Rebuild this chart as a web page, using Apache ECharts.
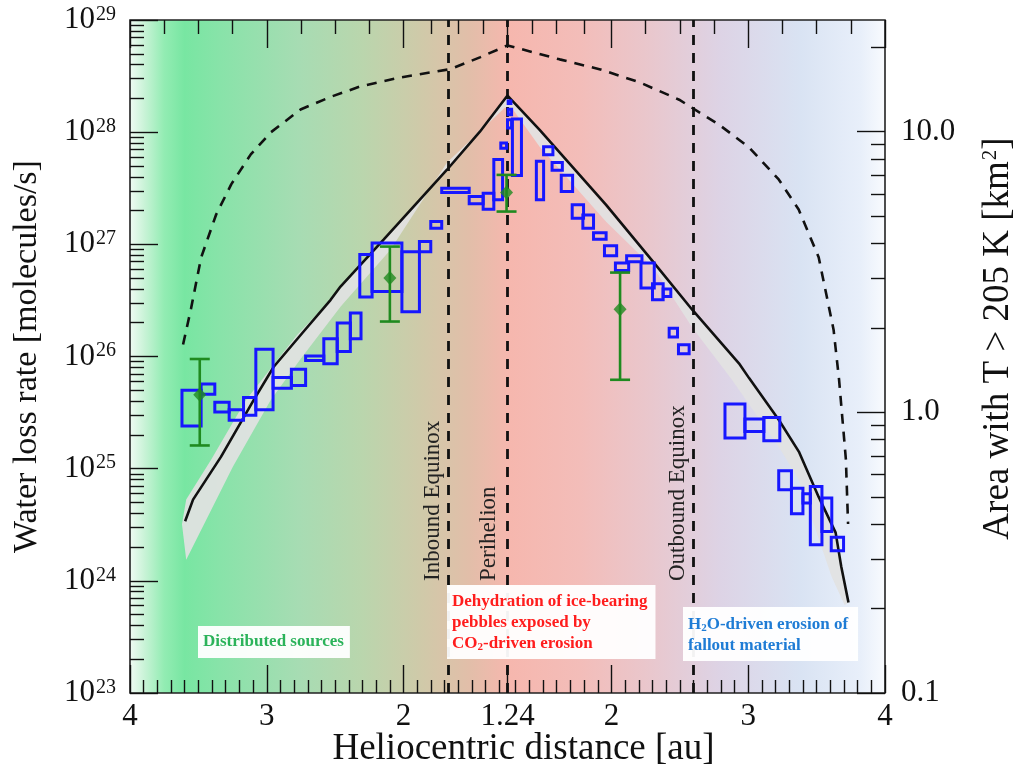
<!DOCTYPE html>
<html>
<head>
<meta charset="utf-8">
<script src="https://cdn.jsdelivr.net/npm/echarts@6/dist/echarts.min.js"></script>
<style>
  html, body { margin: 0; padding: 0; background: #ffffff; }
  #chart { width: 1019px; height: 766px; }
</style>
</head>
<body>
<div id="chart"></div>
<script>
// ---------------------------------------------------------------------------
// Water loss rate along the orbit, inbound (left) and outbound (right) legs.
// Distances in au, rates in molecules/s, areas in km^2.
// ---------------------------------------------------------------------------
const PERIHELION = 1.24;
const AXIS_END = 4;

// Labelled distances on each leg
const distanceTicksIn = [4, 3, 2];
const distanceTicksOut = [2, 3, 4];

// Equinox crossings
const equinoxIn = 1.67;
const equinoxOut = 2.6;

// Modelled water loss rate: [distance, rate]
const modelIn = [[3.597, 3.4e24], [3.539, 5.3e24], [3.334, 1.28e25], [3.214, 2.3e25], [3.095, 4.1e25],
  [2.949, 8.1e25], [2.740, 1.62e26], [2.533, 3.2e26], [2.461, 4.2e26], [2.146, 1.10e27],
  [1.927, 2.17e27], [1.684, 4.6e27], [1.442, 1.01e28], [1.24, 2.12e28]];
const modelOut = [[1.24, 2.12e28], [1.475, 1.05e28], [1.961, 2.25e27], [2.313, 6.8e26], [2.592, 2.6e26],
  [2.932, 8.7e25], [3.005, 6.45e25], [3.223, 2.73e25], [3.37, 1.42e25], [3.515, 5.6e24],
  [3.639, 2.69e24], [3.68, 1.34e24], [3.733, 6.4e23]];

// Uncertainty envelope of the model: upper and lower edges
const bandTopIn = [[3.62, 3.2e24], [3.589, 5.3e24], [3.407, 1.2e25], [3.152, 4.1e25], [2.78, 1.55e26],
  [2.533, 3.2e26], [2.146, 1.10e27], [1.684, 4.6e27], [1.24, 2.12e28]];
const bandTopOut = [[1.24, 2.12e28], [1.475, 1.05e28], [2.932, 8.7e25], [3.005, 6.45e25], [3.223, 2.73e25],
  [3.37, 1.42e25], [3.515, 5.6e24], [3.639, 2.69e24], [3.733, 6.4e23]];
const bandLowIn = [[3.589, 1.54e24], [3.248, 1.04e25], [2.971, 4.1e25], [2.753, 9.5e25], [2.461, 2.77e26],
  [2.097, 8.9e26], [1.682, 5.37e27], [1.26, 1.65e28]];
const bandLowOut = [[1.271, 1.65e28], [1.475, 7.43e27], [1.961, 1.59e27], [2.313, 6.07e26], [2.592, 1.80e26],
  [2.881, 6.2e25], [3.223, 1.57e25], [3.369, 7.96e24], [3.61, 1.09e24], [3.705, 6.1e23]];

// Surface area warmer than 205 K: [distance, km^2]
const areaIn = [[3.612, 1.745], [3.554, 2.34], [3.48, 3.56], [3.37, 5.07], [3.26, 6.49], [3.117, 8.3],
  [2.971, 9.94], [2.753, 12.0], [2.534, 13.3], [2.316, 14.5], [2.024, 15.6], [1.66, 16.7],
  [1.442, 18.4], [1.24, 20.3]];
const areaOut = [[1.24, 20.3], [1.424, 19.2], [1.621, 18.1], [1.912, 16.7], [2.204, 15.0], [2.495, 13.0],
  [2.786, 10.6], [3.005, 8.8], [3.223, 6.76], [3.369, 5.28], [3.515, 3.57], [3.624, 1.97],
  [3.664, 1.31], [3.714, 0.68], [3.73, 0.40]];

// Measured loss rates: [distance from, distance to, rate low, rate high]
const boxesIn = [
  [3.62, 3.48, 2.4e25, 5.0e25], [3.48, 3.38, 4.6e25, 5.7e25], [3.38, 3.275, 3.2e25, 3.9e25],
  [3.275, 3.17, 2.7e25, 3.35e25], [3.17, 3.08, 3.0e25, 4.3e25], [3.08, 2.954, 3.35e25, 1.16e26],
  [2.954, 2.82, 5.2e25, 6.5e25], [2.82, 2.716, 5.5e25, 7.7e25], [2.716, 2.583, 9.2e25, 1.01e26],
  [2.583, 2.485, 8.6e25, 1.44e26], [2.485, 2.389, 1.11e26, 1.99e26], [2.389, 2.311, 1.44e26, 2.44e26],
  [2.32, 2.23, 3.4e26, 8.1e26], [2.23, 2.012, 3.8e26, 1.03e27], [2.012, 1.884, 2.5e26, 8.6e26],
  [1.884, 1.801, 8.6e26, 1.06e27], [1.801, 1.721, 1.39e27, 1.6e27], [1.721, 1.52, 2.9e27, 3.17e27],
  [1.52, 1.418, 2.3e27, 2.67e27], [1.418, 1.34, 2.06e27, 2.86e27], [1.34, 1.276, 2.5e27, 5.7e27],
  [1.289, 1.247, 7.2e27, 8.0e27]
];
const boxesOut = [
  [1.24, 1.27, 1.09e28, 1.29e28], [1.245, 1.27, 1.43e28, 1.6e28], [1.245, 1.265, 1.8e28, 1.9e28],
  [1.276, 1.342, 4.1e27, 1.31e28], [1.451, 1.504, 2.5e27, 5.5e27], [1.504, 1.572, 6.3e27, 7.4e27],
  [1.566, 1.641, 4.57e27, 5.36e27], [1.633, 1.716, 2.96e27, 4.12e27], [1.713, 1.796, 1.71e27, 2.25e27],
  [1.791, 1.869, 1.39e27, 1.83e27], [1.869, 1.961, 1.11e27, 1.27e27], [1.949, 2.038, 7.9e26, 9.7e26],
  [2.029, 2.126, 5.85e26, 6.8e26], [2.111, 2.223, 7.0e26, 7.9e26], [2.216, 2.313, 4.07e26, 6.8e26],
  [2.300, 2.378, 3.2e26, 4.45e26], [2.378, 2.434, 3.43e26, 3.99e26], [2.422, 2.483, 1.49e26, 1.79e26],
  [2.490, 2.568, 1.06e26, 1.27e26], [2.830, 2.976, 1.88e25, 3.78e25], [2.976, 3.114, 2.15e25, 2.77e25],
  [3.114, 3.231, 1.77e25, 2.86e25], [3.223, 3.316, 6.5e24, 9.6e24], [3.316, 3.400, 3.96e24, 6.7e24],
  [3.400, 3.454, 4.93e24, 5.97e24], [3.454, 3.539, 2.1e24, 6.93e24], [3.539, 3.611, 2.75e24, 5.47e24],
  [3.607, 3.697, 1.85e24, 2.45e24]
];

// Independent estimates: [distance, rate, low, high]
const pointsIn = [[3.49, 4.56e25, 1.61e25, 9.5e25], [2.10, 5.0e26, 2.05e26, 9.55e26], [1.247, 2.9e27, 1.96e27, 4.16e27]];
const pointsOut = [[2.063, 2.64e26, 6.2e25, 5.6e26]];

// ---------------------------------------------------------------------------
const FONT = "'Liberation Serif', 'Times New Roman', serif";
const INK = '#111111';

// Signed orbit coordinate: negative before perihelion, positive after
const toU = (r, leg) => leg === 'in' ? -(r - PERIHELION) : (r - PERIHELION);
const curve = (pts, leg) => pts.map(p => [toU(p[0], leg), p[1]]);

const uMax = AXIS_END - PERIHELION;
const majorU = [...distanceTicksIn.map(r => toU(r, 'in')), 0, ...distanceTicksOut.map(r => toU(r, 'out'))];

const minorU = [];
for (let k = 13; k < 40; k++) {
  if (k % 10 === 0) continue;
  minorU.push(toU(k / 10, 'in'), toU(k / 10, 'out'));
}
const topMinorR = [3.75, 3.5, 3.25, 2.75, 2.5, 2.25, 1.8, 1.6, 1.42];
const topMinorU = [];
topMinorR.forEach(r => topMinorU.push(toU(r, 'in'), toU(r, 'out')));

const logMinor = (lo, hi, max) => {
  const out = [];
  for (let n = lo; n < hi; n++) for (let k = 2; k <= 9; k++) {
    const v = Math.log10(k) + n;
    if (v < max) out.push(v);
  }
  return out;
};
const AREA_MIN = 0.1, AREA_MAX = 25;

const modelLine = [...curve(modelIn, 'in'), ...curve(modelOut, 'out').slice(1)];
const areaLine = [...curve(areaIn, 'in'), ...curve(areaOut, 'out').slice(1)];
const bandTop = [...curve(bandTopIn, 'in'), ...curve(bandTopOut, 'out').slice(1)];
const bandLow = [...curve(bandLowIn, 'in'), ...curve(bandLowOut, 'out')];

const boxData = [
  ...boxesIn.map(b => [toU(b[0], 'in'), toU(b[1], 'in'), b[2], b[3]]),
  ...boxesOut.map(b => [toU(b[0], 'out'), toU(b[1], 'out'), b[2], b[3]])
];
const pointData = [
  ...pointsIn.map(p => [toU(p[0], 'in'), p[1], p[2], p[3]]),
  ...pointsOut.map(p => [toU(p[0], 'out'), p[1], p[2], p[3]])
];

const distLabel = v => {
  if (Math.abs(v) < 1e-6) return String(PERIHELION);
  return String(Math.round((Math.abs(v) + PERIHELION) * 100) / 100);
};

const chart = echarts.init(document.getElementById('chart'), null, { renderer: 'canvas' });

const bg = new echarts.graphic.LinearGradient(0, 0, 1, 0, [
  { offset: 0.000, color: '#f2fbf5' },
  { offset: 0.020, color: '#c9f3d7' },
  { offset: 0.046, color: '#93ecb3' },
  { offset: 0.073, color: '#78e6a2' },
  { offset: 0.120, color: '#88e3a9' },
  { offset: 0.225, color: '#a7dcb3' },
  { offset: 0.305, color: '#b9d6ad' },
  { offset: 0.384, color: '#cfcaa9' },
  { offset: 0.450, color: '#e2bea9' },
  { offset: 0.503, color: '#f6b7ae' },
  { offset: 0.596, color: '#f3bdb9' },
  { offset: 0.689, color: '#e9c7cd' },
  { offset: 0.781, color: '#ddd3e5' },
  { offset: 0.887, color: '#d9e3f3' },
  { offset: 0.967, color: '#e8effa' },
  { offset: 1.000, color: '#f9fbfe' }
]);

const tickStyle = { color: INK, width: 1.4 };
const noLine = { show: false, onZero: false };

const option = {
  animation: false,
  grid: {
    left: 130, right: 134, top: 20, bottom: 73,
    outerBoundsMode: 'none', containLabel: false,
    show: true, backgroundColor: bg, borderColor: '#222', borderWidth: 1.6
  },
  xAxis: [
    {
      type: 'value', min: -uMax, max: uMax, position: 'bottom',
      axisLine: noLine,
      splitLine: { show: false },
      axisTick: { show: true, inside: true, length: 28, lineStyle: tickStyle, customValues: majorU },
      axisLabel: {
        customValues: majorU, formatter: distLabel, margin: 8,
        fontFamily: FONT, fontSize: 31, color: INK
      },
      name: 'Heliocentric distance [au]', nameLocation: 'middle', nameGap: 38, nameMoveOverlap: false,
      nameTextStyle: { fontFamily: FONT, fontSize: 37, color: INK, padding: [0, 0, 0, 32] }
    },
    {
      type: 'value', min: -uMax, max: uMax, position: 'bottom',
      axisLine: noLine, splitLine: { show: false }, axisLabel: { show: false },
      axisTick: { show: true, inside: true, length: 13, lineStyle: tickStyle, customValues: minorU }
    },
    {
      type: 'value', min: -uMax, max: uMax, position: 'top',
      axisLine: noLine, splitLine: { show: false }, axisLabel: { show: false },
      axisTick: { show: true, inside: true, length: 28, lineStyle: tickStyle, customValues: majorU }
    },
    {
      type: 'value', min: -uMax, max: uMax, position: 'top',
      axisLine: noLine, splitLine: { show: false }, axisLabel: { show: false },
      axisTick: { show: true, inside: true, length: 14, lineStyle: tickStyle, customValues: topMinorU }
    }
  ],
  yAxis: [
    {
      type: 'log', logBase: 10, min: 1e23, max: 1e29, position: 'left',
      axisLine: noLine, splitLine: { show: false },
      axisTick: { show: true, inside: true, length: 28, lineStyle: tickStyle },
      axisLabel: {
        margin: 14,
        formatter: v => '{b|10}{s|' + Math.round(Math.log10(v)) + '}',
        rich: {
          b: { fontFamily: FONT, fontSize: 31, color: INK, lineHeight: 31, verticalAlign: 'bottom' },
          s: { fontFamily: FONT, fontSize: 20, color: INK, lineHeight: 20, verticalAlign: 'top', padding: [0, 0, 20, 1] }
        }
      },
      name: 'Water loss rate [molecules/s]', nameLocation: 'middle', nameGap: 86, nameMoveOverlap: false,
      nameTextStyle: { fontFamily: FONT, fontSize: 34, color: INK }
    },
    {
      type: 'log', logBase: 10, min: AREA_MIN, max: AREA_MAX, position: 'right',
      axisLine: noLine, splitLine: { show: false },
      axisTick: { show: true, inside: true, length: 28, lineStyle: tickStyle },
      axisLabel: {
        margin: 16, showMaxLabel: false,
        formatter: v => v.toFixed(1),
        fontFamily: FONT, fontSize: 31, color: INK
      },
      name: '{t|Area with T > 205 K [km}{s|2}{t|]}', nameLocation: 'middle', nameGap: 95, nameRotate: 90,
      nameMoveOverlap: false,
      nameTextStyle: {
        padding: [0, 0, 0, 36],
        rich: {
          t: { fontFamily: FONT, fontSize: 37, color: INK, lineHeight: 37, verticalAlign: 'bottom' },
          s: { fontFamily: FONT, fontSize: 21, color: INK, lineHeight: 21, verticalAlign: 'top', padding: [0, 0, 17, 1] }
        }
      }
    },
    {
      type: 'value', min: 23, max: 29, position: 'left',
      axisLine: noLine, splitLine: { show: false }, axisLabel: { show: false },
      axisTick: { show: true, inside: true, length: 14, lineStyle: tickStyle, customValues: logMinor(23, 29, 29) }
    },
    {
      type: 'value', min: Math.log10(AREA_MIN), max: Math.log10(AREA_MAX), position: 'right',
      axisLine: noLine, splitLine: { show: false }, axisLabel: { show: false },
      axisTick: { show: true, inside: true, length: 14, lineStyle: tickStyle, customValues: logMinor(-1, 2, Math.log10(AREA_MAX)) }
    }
  ],
  series: [
    {
      name: 'Model envelope', type: 'custom', xAxisIndex: 0, yAxisIndex: 0, z: 2, silent: true,
      data: [[0, 1e26]],
      renderItem: (params, api) => {
        const pts = [...bandTop, ...bandLow.slice().reverse()].map(p => api.coord(p));
        return { type: 'polygon', shape: { points: pts }, style: { fill: 'rgba(226,226,226,0.92)', stroke: 'none' } };
      }
    },
    {
      name: 'Model', type: 'line', xAxisIndex: 0, yAxisIndex: 0, z: 3,
      data: modelLine, showSymbol: false, symbol: 'none', smooth: false,
      lineStyle: { color: '#111', width: 2.6 }
    },
    {
      name: 'Area > 205 K', type: 'line', xAxisIndex: 0, yAxisIndex: 1, z: 3,
      data: areaLine, showSymbol: false, symbol: 'none', smooth: false,
      lineStyle: { color: '#111', width: 2.6, type: [10, 8] }
    },
    {
      name: 'Measured', type: 'custom', xAxisIndex: 0, yAxisIndex: 0, z: 5,
      data: boxData,
      encode: { x: [0, 1], y: [2, 3] },
      renderItem: (params, api) => {
        const a = api.coord([api.value(0), api.value(3)]);
        const b = api.coord([api.value(1), api.value(2)]);
        return {
          type: 'rect',
          shape: { x: Math.min(a[0], b[0]), y: Math.min(a[1], b[1]), width: Math.abs(b[0] - a[0]), height: Math.abs(b[1] - a[1]) },
          style: { fill: 'none', stroke: '#1717ff', lineWidth: 3 }
        };
      }
    },
    {
      name: 'Estimate range', type: 'custom', xAxisIndex: 0, yAxisIndex: 0, z: 6,
      data: pointData,
      encode: { x: 0, y: [2, 3] },
      renderItem: (params, api) => {
        const top = api.coord([api.value(0), api.value(3)]);
        const bot = api.coord([api.value(0), api.value(2)]);
        const cap = 10;
        const st = { stroke: '#1f8a1f', lineWidth: 2.6 };
        return {
          type: 'group',
          children: [
            { type: 'line', shape: { x1: top[0], y1: top[1], x2: bot[0], y2: bot[1] }, style: st },
            { type: 'line', shape: { x1: top[0] - cap, y1: top[1], x2: top[0] + cap, y2: top[1] }, style: st },
            { type: 'line', shape: { x1: bot[0] - cap, y1: bot[1], x2: bot[0] + cap, y2: bot[1] }, style: st }
          ]
        };
      }
    },
    {
      name: 'Estimate', type: 'scatter', xAxisIndex: 0, yAxisIndex: 0, z: 7,
      data: pointData.map(p => [p[0], p[1]]),
      symbol: 'diamond', symbolSize: [13, 14],
      itemStyle: { color: '#1f8a1f' },
      markLine: {
        silent: true, symbol: 'none', animation: false,
        lineStyle: { color: '#111', width: 2.8, type: [10, 8] },
        label: {
          position: 'insideStartTop', distance: [112, 4],
          fontFamily: FONT, fontSize: 23, color: '#222'
        },
        data: [
          { xAxis: toU(equinoxIn, 'in'), label: { formatter: 'Inbound Equinox' } },
          { xAxis: 0, label: { formatter: 'Perihelion', distance: [112, 7] } },
          { xAxis: toU(equinoxOut, 'out'), label: { formatter: 'Outbound Equinox' } }
        ]
      }
    }
  ],
  graphic: [
    {
      type: 'text', left: 198, top: 626, z: 100,
      style: {
        text: 'Distributed sources',
        fontFamily: FONT, fontSize: 17, fontWeight: 'bold', fill: '#2bb35a',
        backgroundColor: 'rgba(255,255,255,0.95)', padding: [7, 6, 7, 5], lineHeight: 18
      }
    },
    {
      type: 'text', left: 447, top: 585, z: 100,
      style: {
        text: '{r|Dehydration of ice-bearing}\n{r|pebbles exposed by}\n{r|CO}{d|2}{r|-driven erosion}',
        backgroundColor: 'rgba(255,255,255,0.95)', padding: [6, 8, 5, 5],
        rich: {
          r: { fontFamily: FONT, fontSize: 17, fontWeight: 'bold', fill: '#ff1d1d', lineHeight: 21, verticalAlign: 'middle' },
          d: { fontFamily: FONT, fontSize: 11, fontWeight: 'bold', fill: '#ff1d1d', lineHeight: 11, verticalAlign: 'bottom', padding: [0, 0, 1, 0] }
        }
      }
    },
    {
      type: 'text', left: 683, top: 607, z: 100,
      style: {
        text: '{r|H}{d|2}{r|O-driven erosion of}\n{r|fallout material}',
        backgroundColor: 'rgba(255,255,255,0.95)', padding: [7, 10, 5, 5],
        rich: {
          r: { fontFamily: FONT, fontSize: 17, fontWeight: 'bold', fill: '#1f7cd5', lineHeight: 21, verticalAlign: 'middle' },
          d: { fontFamily: FONT, fontSize: 11, fontWeight: 'bold', fill: '#1f7cd5', lineHeight: 11, verticalAlign: 'bottom', padding: [0, 0, 1, 0] }
        }
      }
    }
  ]
};

chart.setOption(option);
</script>
</body>
</html>
